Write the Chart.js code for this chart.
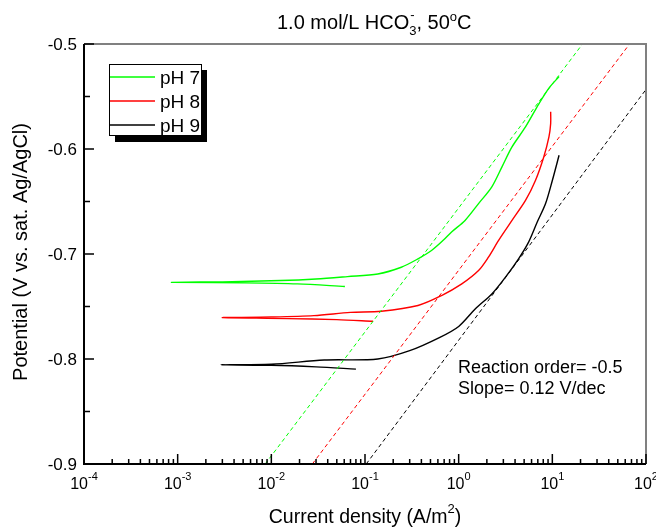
<!DOCTYPE html>
<html>
<head>
<meta charset="utf-8">
<script src="https://cdn.jsdelivr.net/npm/chart.js@4.4.0/dist/chart.umd.min.js"></script>
<style>
  html, body { margin: 0; padding: 0; background: #fff; }
  canvas { display: block; }
</style>
</head>
<body>
<canvas id="myChart" width="656" height="529"></canvas>
<script>
// polarization curves, current density (A/m2) vs potential (V)
// each curve: short branch back to Ecorr, then the rising branch
var ph7Current = [0.061, 0.019, 0.005, 0.00086, 0.003, 0.0125, 0.03, 0.065, 0.137, 0.244, 0.368, 0.513, 0.684, 0.84, 1.17, 1.63, 2.26, 2.9, 3.71, 5.17, 7.18, 9.2, 11.8];
var ph7Potential = [-0.731, -0.7285, -0.7275, -0.727, -0.7265, -0.7253, -0.7238, -0.7215, -0.719, -0.7126, -0.7046, -0.6967, -0.687, -0.679, -0.668, -0.652, -0.636, -0.617, -0.598, -0.579, -0.557, -0.542, -0.531];

var ph8Current = [0.122, 0.05, 0.015, 0.003, 0.01, 0.0285, 0.07, 0.149, 0.368, 0.656, 1.08, 1.63, 2.08, 2.67, 3.71, 5.17, 6.6, 8.1, 9.2, 9.6, 9.6];
var ph8Potential = [-0.764, -0.7625, -0.7615, -0.7606, -0.760, -0.7587, -0.7556, -0.7545, -0.749, -0.7396, -0.7285, -0.7158, -0.703, -0.687, -0.668, -0.649, -0.630, -0.6076, -0.5885, -0.5757, -0.5646];

var ph9Current = [0.08, 0.03, 0.01, 0.0029, 0.01, 0.0366, 0.137, 0.30, 0.63, 1.0, 1.5, 2.26, 3.15, 4.36, 5.58, 6.9, 8.47, 10.0, 11.8];
var ph9Potential = [-0.8096, -0.8075, -0.806, -0.8055, -0.805, -0.801, -0.800, -0.7921, -0.7794, -0.769, -0.7524, -0.738, -0.7222, -0.7046, -0.6887, -0.6696, -0.652, -0.630, -0.606];

// Tafel fit lines (dashed)
var fit7Current = [0.0086, 21];
var fit7Potential = [-0.9, -0.5];
var fit8Current = [0.0274, 66.8];
var fit8Potential = [-0.9, -0.5];
var fit9Current = [0.103, 100];
var fit9Potential = [-0.9, -0.5433];

var seriesNames = ['pH 7', 'pH 8', 'pH 9'];
var seriesColors = ['#00ff00', '#ff0000', '#000000'];

var xTickExponents = [-4, -3, -2, -1, 0, 1, 2];
var yTickValues = [-0.9, -0.8, -0.7, -0.6, -0.5];
var noteLines = ['Reaction order= -0.5', 'Slope= 0.12 V/dec'];

var FONT = '"Liberation Sans", Arial, sans-serif';

function toPoints(xs, ys) {
    var pts = [];
    for (var i = 0; i < xs.length; i++) {
        pts.push({ x: xs[i], y: ys[i] });
    }
    return pts;
}

function curve(label, xs, ys, color) {
    return {
        label: label,
        data: toPoints(xs, ys),
        showLine: true,
        borderColor: color,
        borderWidth: 1.4,
        pointRadius: 0,
        tension: 0.3
    };
}

function fitLine(xs, ys, color) {
    return {
        label: '',
        data: toPoints(xs, ys),
        showLine: true,
        borderColor: color,
        borderWidth: 1,
        borderDash: [4, 3],
        pointRadius: 0,
        tension: 0
    };
}

// draws the frame, ticks, labels, legend and note by hand
var decorations = {
    id: 'decorations',
    afterDraw: function(chart) {
        var ctx = chart.ctx;
        var a = chart.chartArea;
        var xs = chart.scales.x;
        var ys = chart.scales.y;
        ctx.save();

        // frame
        ctx.lineWidth = 2;
        ctx.strokeStyle = '#808080';
        ctx.beginPath();
        ctx.moveTo(a.left, a.top);
        ctx.lineTo(a.right, a.top);
        ctx.lineTo(a.right, a.bottom);
        ctx.stroke();
        ctx.strokeStyle = '#000';
        ctx.beginPath();
        ctx.moveTo(a.left, a.top);
        ctx.lineTo(a.left, a.bottom);
        ctx.lineTo(a.right, a.bottom);
        ctx.stroke();

        // x ticks (inward)
        ctx.lineWidth = 1.5;
        ctx.beginPath();
        xTickExponents.forEach(function(e, i) {
            var px = xs.getPixelForValue(Math.pow(10, e));
            ctx.moveTo(px, a.bottom);
            ctx.lineTo(px, a.bottom - 10);
            if (i < xTickExponents.length - 1) {
                for (var m = 2; m <= 9; m++) {
                    var mx = xs.getPixelForValue(m * Math.pow(10, e));
                    ctx.moveTo(mx, a.bottom);
                    ctx.lineTo(mx, a.bottom - 5);
                }
            }
        });
        // y ticks
        yTickValues.forEach(function(v, i) {
            var py = ys.getPixelForValue(v);
            ctx.moveTo(a.left, py);
            ctx.lineTo(a.left + 10, py);
            if (i < yTickValues.length - 1) {
                var my = ys.getPixelForValue(v + 0.05);
                ctx.moveTo(a.left, my);
                ctx.lineTo(a.left + 6, my);
            }
        });
        ctx.stroke();

        ctx.fillStyle = '#000';
        ctx.textBaseline = 'alphabetic';

        // y tick labels
        ctx.font = '17px ' + FONT;
        ctx.textAlign = 'right';
        yTickValues.forEach(function(v) {
            ctx.fillText(v.toFixed(1), a.left - 7, ys.getPixelForValue(v) + 6);
        });

        // x tick labels 10^n
        ctx.textAlign = 'left';
        xTickExponents.forEach(function(e) {
            var px = xs.getPixelForValue(Math.pow(10, e));
            ctx.font = '16px ' + FONT;
            var w1 = ctx.measureText('10').width;
            ctx.font = '11px ' + FONT;
            var w2 = ctx.measureText(String(e)).width;
            var x0 = px - (w1 + w2) / 2;
            ctx.font = '16px ' + FONT;
            ctx.fillText('10', x0, a.bottom + 25);
            ctx.font = '11px ' + FONT;
            ctx.fillText(String(e), x0 + w1, a.bottom + 16);
        });

        // title: 1.0 mol/L HCO3-, 50°C
        var tx = 277, ty = 29;
        ctx.font = '20px ' + FONT;
        ctx.fillText('1.0 mol/L HCO', tx, ty);
        tx += ctx.measureText('1.0 mol/L HCO').width;
        ctx.font = '13px ' + FONT;
        ctx.fillText('3', tx, ty + 6);
        ctx.fillText('-', tx + 1, ty - 10);
        tx += ctx.measureText('3').width;
        ctx.font = '20px ' + FONT;
        ctx.fillText(', 50', tx, ty);
        tx += ctx.measureText(', 50').width;
        ctx.font = '13px ' + FONT;
        ctx.fillText('o', tx, ty - 8);
        tx += ctx.measureText('o').width;
        ctx.font = '20px ' + FONT;
        ctx.fillText('C', tx, ty);

        // x axis title
        ctx.font = '19.5px ' + FONT;
        var part1 = 'Current density (A/m';
        var w1 = ctx.measureText(part1).width;
        var w3 = ctx.measureText(')').width;
        ctx.font = '13px ' + FONT;
        var w2 = ctx.measureText('2').width;
        var cx = (a.left + a.right) / 2 - (w1 + w2 + w3) / 2;
        ctx.font = '19.5px ' + FONT;
        ctx.fillText(part1, cx, 523);
        ctx.fillText(')', cx + w1 + w2, 523);
        ctx.font = '13px ' + FONT;
        ctx.fillText('2', cx + w1, 513);

        // y axis title
        ctx.save();
        ctx.translate(27, 252);
        ctx.rotate(-Math.PI / 2);
        ctx.font = '20px ' + FONT;
        ctx.textAlign = 'center';
        ctx.fillText('Potential (V vs. sat. Ag/AgCl)', 0, 0);
        ctx.restore();

        // legend with drop shadow
        ctx.fillStyle = '#000';
        ctx.fillRect(115, 70, 92, 72);
        ctx.fillStyle = '#fff';
        ctx.fillRect(109, 64, 93, 72);
        ctx.lineWidth = 1;
        ctx.strokeStyle = '#000';
        ctx.strokeRect(109.5, 64.5, 92, 71);
        ctx.font = '19px ' + FONT;
        ctx.textAlign = 'left';
        seriesNames.forEach(function(name, i) {
            var ly = 77 + i * 24;
            ctx.strokeStyle = seriesColors[i];
            ctx.lineWidth = 1.5;
            ctx.beginPath();
            ctx.moveTo(110, ly);
            ctx.lineTo(155, ly);
            ctx.stroke();
            ctx.fillStyle = '#000';
            ctx.fillText(name, 160, ly + 7);
        });

        // note
        ctx.font = '18px ' + FONT;
        ctx.fillText(noteLines[0], 458, 373);
        ctx.fillText(noteLines[1], 458, 394);

        ctx.restore();
    }
};

const ctxc = document.getElementById('myChart');
const chart = new Chart(ctxc, {
    type: 'scatter',
    data: {
        datasets: [
            fitLine(fit7Current, fit7Potential, seriesColors[0]),
            fitLine(fit8Current, fit8Potential, seriesColors[1]),
            fitLine(fit9Current, fit9Potential, seriesColors[2]),
            curve(seriesNames[0], ph7Current, ph7Potential, seriesColors[0]),
            curve(seriesNames[1], ph8Current, ph8Potential, seriesColors[1]),
            curve(seriesNames[2], ph9Current, ph9Potential, seriesColors[2])
        ]
    },
    options: {
        responsive: false,
        animation: false,
        layout: { padding: { left: 84, top: 44, right: 10, bottom: 65 } },
        scales: {
            x: { type: 'logarithmic', min: 1e-4, max: 100, display: false },
            y: { type: 'linear', min: -0.9, max: -0.5, display: false }
        },
        plugins: {
            legend: { display: false },
            tooltip: { enabled: false }
        }
    },
    plugins: [decorations]
});
</script>
</body>
</html>
